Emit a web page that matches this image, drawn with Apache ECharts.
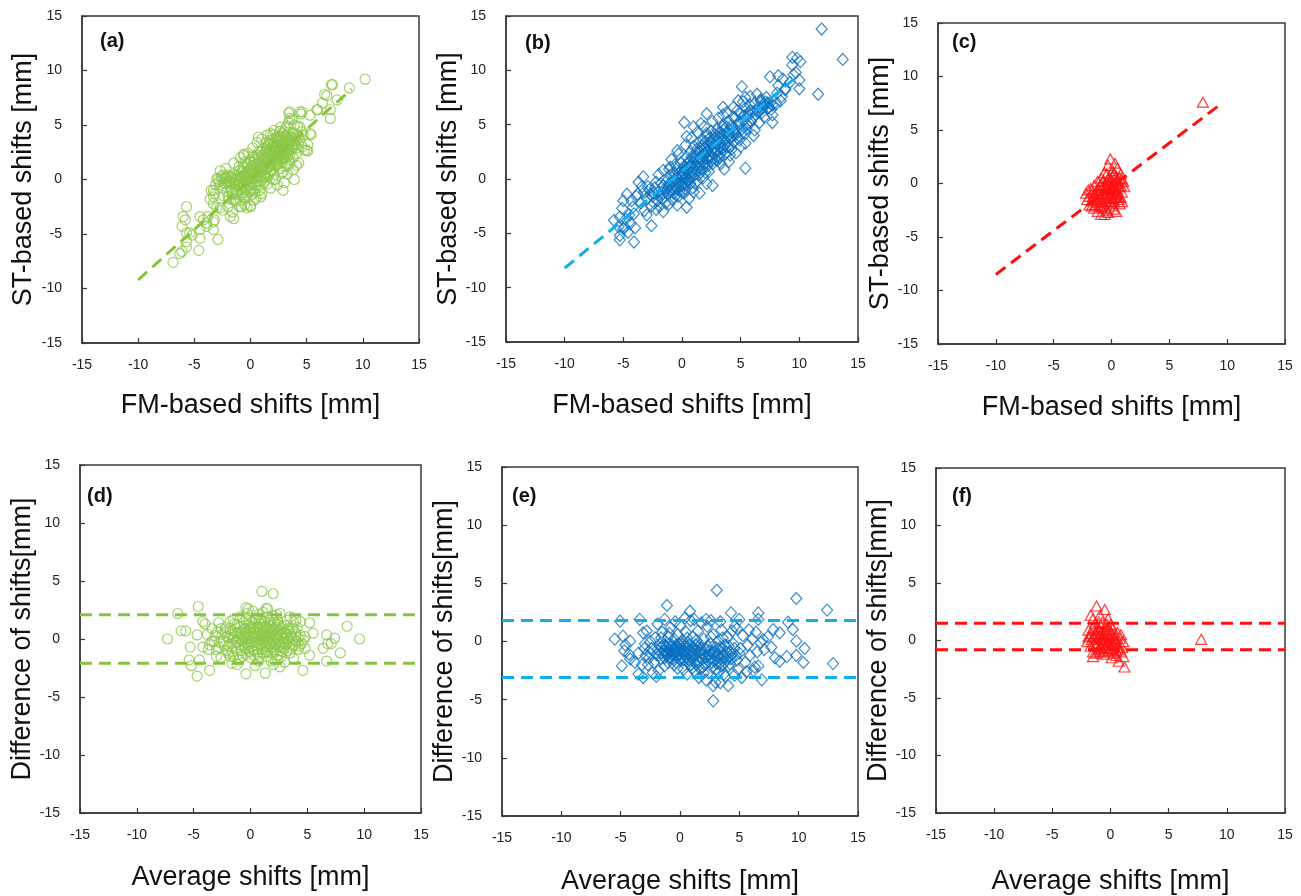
<!DOCTYPE html>
<html>
<head>
<meta charset="utf-8">
<script src="https://cdn.jsdelivr.net/npm/echarts@6/dist/echarts.min.js"></script>
<style>html,body{margin:0;padding:0;background:#fff;}#chart{width:1301px;height:896px;}</style>
</head>
<body>
<div id="chart"></div>
<script>
// ---------- DATA ----------
const panelLabels = ['(a)', '(b)', '(c)', '(d)', '(e)', '(f)'];
const xTitles = ['FM-based shifts [mm]', 'FM-based shifts [mm]', 'FM-based shifts [mm]', 'Average shifts [mm]', 'Average shifts [mm]', 'Average shifts [mm]'];
const yTitles = ['ST-based shifts [mm]', 'ST-based shifts [mm]', 'ST-based shifts [mm]', 'Difference of shifts[mm]', 'Difference of shifts[mm]', 'Difference of shifts[mm]'];
const axisMin = -15, axisMax = 15, axisStep = 5;

// (a) FM vs ST, circles
const pointsA = [
[10.2,9.2],[7.3,8.7],[8.8,8.4],[6.6,7.8],[7.7,7.3],[6.4,7.0],[7.1,6.4],[7.1,5.6],[5.9,6.4],[3.5,6.2],[4.4,6.2],[4.5,6.0],[5.3,5.9],[3.5,5.6],[3.1,4.7],[4.4,4.8],[5.3,4.2],[4.7,4.1],[0.7,3.9],[2.6,4.4],[5.1,3.2],[5.1,2.6],[4.1,2.4],[3.5,1.5],[3.9,0.0],[2.9,-1.0],[-0.6,2.3],[0.3,2.1],[-0.3,1.2],[-3.0,0.1],[-3.2,-1.3],[-3.3,-2.2],[-2.7,-2.6],[-1.5,-3.6],[-2.9,-5.5],[-4.5,-5.4],[-5.7,-2.5],[-5.8,-3.7],[-6.1,-4.3],[-5.7,-4.9],[-5.2,-5.1],[-4.5,-4.6],[-5.7,-6.2],[-4.6,-6.5],[-6.3,-6.8],[-6.9,-7.6],[-4.2,-3.7],[-3.8,-3.4],[-3.3,-3.9],[-3.3,-4.6],[-4.5,-3.4],[-3.9,-4.3],[-1.8,-0.2],[-1.5,-1.9],[-0.3,-2.6],[0.3,-1.9],[0.9,-1.6],[2.0,0.0],[2.9,0.7],[2.5,2.1],[1.4,2.6],[1.7,3.6],[2.3,3.9],[3.2,4.1],[3.8,4.2],
[-6.0,-3.4],[-3.9,-4.0],[-3.2,-3.7],[-5.4,-4.9],[-5.7,-5.7],[-6.1,-6.6],[-1.8,-3.4],[-0.8,-2.5],[0.0,-2.5],[4.1,1.3],[5.0,2.7],[5.4,4.1],[3.4,5.2],[3.7,5.5],[4.6,6.2],[3.4,6.1],[6.0,6.4],[6.8,7.7],[7.2,8.7],[1.6,3.2],[-0.6,2.2],[0.0,1.8],[-2.4,0.4],[-3.5,-1.0],[-3.3,-1.6],
[-2.8,-0.2],[-2.6,0.3],[-2.5,-0.8],[-2.4,-1.5],[-2.3,0.1],[-2.2,-0.4],[-2.1,-1.1],[-2.0,0.4],[-1.9,-0.1],[-1.9,-1.8],[-1.8,-0.7],[-1.7,0.2],[-1.6,-1.3],[-1.5,-0.3],[-1.5,0.5],[-1.4,-0.9],[-1.3,0.0],[-1.3,-2.0],[-1.2,-0.5],[-1.1,0.3],[-1.1,-1.4],[-1.0,-0.2],[-1.0,0.8],[-0.9,-0.8],[-0.9,-1.9],[-0.8,0.1],[-0.8,0.6],[-0.7,-0.4],[-0.7,-1.2],[-0.6,0.3],[-0.6,1.1],[-0.5,-0.1],[-0.5,-0.9],[-0.4,0.5],[-0.4,-1.6],[-0.3,0.0],[-0.3,1.4],[-0.2,-0.6],[-0.2,0.8],[-0.1,0.2],[-0.1,-1.1],[0.0,0.5],[0.0,-0.3],[0.0,1.6],[0.1,0.9],[0.1,-0.8],[0.2,0.1],[0.2,1.3],[0.3,-0.4],[0.3,0.6],[0.4,1.9],[0.4,-1.2],[0.5,0.3],[0.5,1.0],[0.6,-0.1],[0.6,2.2],[0.7,0.7],[0.7,1.5],[0.8,-0.6],[0.8,1.1],[0.9,0.4],[0.9,2.5],[1.0,1.7],[1.0,0.0],[1.1,0.9],[1.1,2.8],[1.2,1.3],[1.2,-0.3],[1.3,2.0],[1.3,0.6],[1.4,1.6],[1.4,3.0],[1.5,1.1],[1.5,2.4],[1.6,0.3],[1.6,1.9],[1.7,2.7],[1.7,1.2],[1.8,3.3],[1.8,0.8],[1.9,2.2],[1.9,1.5],[2.0,3.6],[2.0,2.6],[2.1,1.8],[2.1,0.5],[2.2,3.0],[2.2,2.1],[2.3,3.8],[2.3,1.3],[2.4,2.5],[2.4,3.4],[2.5,1.9],[2.5,4.0],[2.6,2.8],[2.6,1.0],[2.7,3.2],[2.7,2.2],[2.8,3.7],[2.8,1.6],[2.9,2.6],[2.9,4.2],[3.0,3.0],[3.0,2.0],[3.1,3.5],[3.1,1.2],[3.2,2.4],[3.2,3.9],[3.3,2.9],[3.4,3.4],[3.4,1.8],[3.5,4.0],[3.6,2.7],[3.6,3.6],[3.7,3.1],[3.8,4.3],[3.9,3.3],[4.0,3.8],[4.1,2.9],[4.2,4.1],[4.4,3.6],[4.6,4.4],
[-3.1,-0.5],[-3.3,-1.0],[-3.6,-1.8],[-3.0,-2.6],[-2.5,-2.8],[-2.0,-2.5],[-1.6,-3.0],[-1.0,-2.5],[-0.5,-2.3],[0.0,-2.4],[0.5,-1.7],[1.0,-1.3],[1.8,-0.8],[2.4,-0.5],[3.0,-0.3],[3.3,0.5],[-2.7,0.8],[-2.2,1.0],[-1.5,1.5],[-0.9,2.0],[-0.2,2.4],[0.2,2.9],[0.6,3.4],[1.0,3.7],[1.5,4.1],[2.1,4.5],[2.7,4.8],[3.3,4.9],[3.9,5.0],[4.2,4.9],[4.6,3.0],[4.8,2.7],[4.3,1.5],[3.8,0.9],[1.8,4.2]
];
const coreA = [
[-2.9,0.0],[-2.7,-0.5],[-2.5,0.1],[-2.4,-0.3],[-2.2,0.2],[-2.1,-0.2],[-1.9,0.3],[-1.8,-0.3],[-1.7,-1.0],[-1.6,0.0],[-1.4,-0.4],[-1.3,0.4],[-1.2,-1.1],[-1.1,-0.1],[-0.9,0.2],[-0.9,-0.4],[-0.8,-1.4],[-0.7,0.8],[-0.6,-0.6],[-0.5,0.4],[-0.4,-0.2],[-0.3,-1.0],[-0.3,0.6],[-0.2,0.2],[-0.1,-0.5],[0.0,1.0],[0.1,0.4],[0.1,-0.1],[0.2,-1.0],[0.3,0.9],[0.3,1.6],[0.4,0.1],[0.5,-0.5],[0.5,1.4],[0.6,0.6],[0.7,0.2],[0.7,1.9],[0.8,0.9],[0.9,1.4],[0.9,-0.2],[1.0,0.6],[1.0,2.2],[1.1,1.3],[1.2,0.3],[1.2,1.9],[1.3,2.5],[1.3,1.0],[1.4,0.2],[1.5,1.5],[1.5,2.8],[1.6,1.1],[1.6,2.3],[1.7,0.6],[1.7,1.8],[1.8,2.5],[1.8,1.4],[1.9,3.0],[1.9,0.9],[2.0,1.9],[2.0,2.2],[2.1,3.3],[2.1,1.3],[2.2,2.6],[2.2,1.6],[2.3,2.9],[2.3,2.0],[2.4,3.7],[2.4,1.5],[2.5,2.7],[2.5,3.2],[2.6,2.3],[2.6,3.6],[2.7,1.8],[2.7,2.7],[2.8,3.3],[2.8,2.3],[2.9,3.0],[2.9,1.9],[3.0,3.6],[3.0,2.5],[3.1,2.8],[3.1,4.0],[3.2,3.2],[3.2,2.0],[3.3,3.7],[3.3,2.5],[3.4,3.0],[3.5,3.4],[3.5,2.3],[3.6,3.9],[3.7,2.8],[3.7,3.5],[3.8,3.0],[3.9,3.8],[4.0,3.2],[4.1,3.6],[4.3,3.9],[-0.5,1.6],[-1.0,1.2],[0.2,2.2],[0.8,2.6],[1.4,3.4],[2.0,4.1],[3.0,4.4],[-2.0,-1.6],[-1.4,-1.8],[-0.6,-1.6],[0.1,-1.4],[0.8,-1.0],[1.5,-0.4],[2.2,0.0],[2.8,0.6],[3.3,1.3],[3.8,2.0]
];
const lineA = [[-10,-9.2],[9,8.3]];

// (b) FM vs ST, diamonds
const pointsB = [
[11.9,13.8],[13.7,11.0],[11.6,7.8],[9.4,11.2],[9.8,11.1],[10.1,10.8],[9.4,10.5],[9.7,9.8],[10.0,9.1],[10.0,8.3],[8.2,9.5],[7.5,9.4],[8.2,8.6],[8.1,7.9],[8.8,8.2],[8.4,7.2],[7.7,5.9],[7.7,5.2],[7.4,6.6],[6.7,7.2],[5.1,8.5],[5.4,7.5],[4.8,7.2],[4.7,6.3],[5.8,6.3],[5.7,5.2],[5.4,4.2],[6.1,4.0],[5.4,3.3],[5.4,1.0],[3.5,6.6],[3.5,5.9],[4.4,5.7],[3.5,4.8],[4.5,4.3],[4.1,2.2],[3.3,1.4],[2.1,6.0],[2.1,4.2],[1.6,5.1],[1.0,4.8],[0.2,5.2],[0.4,3.9],[-0.4,2.6],[-1.0,1.1],[2.1,-0.4],[0.4,-2.6],[1.0,-1.2],[-1.1,-2.3],[-1.6,-1.3],[-2.4,-1.3],[-2.9,-0.7],[-3.3,0.2],[-3.7,-0.3],[-3.0,-3.3],[-2.6,-4.3],[-4.1,-3.2],[-4.3,-2.0],[-5.0,-2.0],[-4.7,-1.4],[-5.1,-2.7],[-5.3,-3.5],[-5.8,-3.8],[-5.4,-4.4],[-4.9,-4.4],[-4.6,-4.9],[-5.3,-5.2],[-5.3,-5.6],[-4.1,-5.8],[-4.4,-4.1],[-3.8,-1.4],[-3.4,-0.7],
[-2.5,-1.6],[-2.3,-0.8],[-2.1,-2.0],[-2.0,-1.2],[-1.8,-0.4],[-1.7,-1.8],[-1.5,-0.9],[-1.4,-2.2],[-1.3,-0.2],[-1.2,-1.4],[-1.1,-0.6],[-1.0,0.3],[-0.9,-1.0],[-0.8,-1.9],[-0.8,-0.3],[-0.7,0.6],[-0.6,-0.7],[-0.5,0.1],[-0.5,-1.5],[-0.4,1.0],[-0.3,-0.4],[-0.3,0.5],[-0.2,-1.1],[-0.1,0.2],[-0.1,1.5],[0.0,-0.6],[0.0,0.8],[0.1,-0.1],[0.2,1.2],[0.2,-1.3],[0.3,0.4],[0.4,2.0],[0.4,-0.5],[0.5,0.9],[0.6,1.6],[0.6,0.0],[0.7,2.5],[0.8,0.6],[0.8,1.2],[0.9,-0.8],[1.0,1.9],[1.0,3.0],[1.1,0.4],[1.2,1.4],[1.2,2.4],[1.3,-0.2],[1.4,3.3],[1.4,1.0],[1.5,2.0],[1.6,0.6],[1.6,2.8],[1.7,1.6],[1.8,3.6],[1.8,0.1],[1.9,2.3],[2.0,1.2],[2.0,3.0],[2.1,4.0],[2.2,1.8],[2.2,2.6],[2.3,0.7],[2.4,3.4],[2.5,2.1],[2.5,4.4],[2.6,1.4],[2.7,2.9],[2.8,3.8],[2.9,2.4],[3.0,1.7],[3.0,4.6],[3.1,3.2],[3.2,2.0],[3.3,4.0],[3.4,2.8],[3.5,5.0],[3.6,3.5],[3.7,2.3],[3.8,4.3],[3.9,3.0],[4.0,5.3],[4.1,3.8],[4.2,2.7],[4.3,4.7],[4.4,3.4],[4.5,5.6],[4.6,4.1],[4.8,5.0],[4.9,3.6],[5.0,6.0],[5.1,4.6],[5.2,5.4],[5.4,6.5],[5.5,5.0],[5.6,5.8],[5.8,6.8],[5.9,5.3],[6.0,6.2],[6.2,7.0],[6.3,5.9],[6.5,6.6],[6.7,7.3],[6.8,6.1],[7.0,6.9],[7.2,7.5],[7.3,6.5],[7.5,7.0],[6.6,6.2],[7.1,7.1],
[-3.0,-1.8],[-2.8,-1.0],[-2.6,-2.5],[-3.5,-2.2],[-3.9,-1.6],[-4.2,-2.6],[-4.5,-3.3],[-4.8,-3.7],[-5.0,-4.6],[-4.0,-4.5],[-3.2,-2.9],[-2.2,-2.8],[-1.6,-3.0],[-0.4,-2.4],[0.6,-1.8],[1.5,-1.3],[2.6,-0.6],[3.6,0.9],[4.0,1.6],[4.6,2.4],[5.0,3.0],[-1.6,0.8],[-2.0,0.4],[-0.9,1.8],[-0.3,2.3],[0.3,3.1],[0.8,3.8],[1.3,4.3],[1.9,4.8],[2.6,5.3],[3.1,5.6],[3.8,6.1],[4.4,6.6],[5.2,7.1],[5.8,7.6],[6.4,7.8],[6.2,4.5],[6.6,5.2],[7.0,5.7],[7.6,6.4],[8.0,6.9],[8.5,7.6],[8.8,8.3],[9.2,8.9],[9.5,9.6],[8.6,9.2]
];
const coreB = [
[-1.9,-1.4],[-1.6,-0.6],[-1.4,-1.2],[-1.2,-0.8],[-1.0,-1.2],[-0.9,-0.2],[-0.7,-1.3],[-0.6,-0.1],[-0.5,-0.9],[-0.4,-0.2],[-0.3,-1.6],[-0.2,0.3],[-0.1,-0.6],[0.0,0.2],[0.0,-1.2],[0.1,0.6],[0.2,-0.4],[0.3,1.0],[0.3,-0.9],[0.4,0.1],[0.5,1.4],[0.5,-0.2],[0.6,0.6],[0.7,1.1],[0.7,-0.4],[0.8,2.0],[0.9,0.2],[0.9,1.5],[1.0,0.9],[1.1,2.1],[1.1,-0.4],[1.2,0.8],[1.3,1.8],[1.3,2.8],[1.4,0.4],[1.5,1.3],[1.5,2.5],[1.6,1.9],[1.7,0.9],[1.7,3.1],[1.8,2.1],[1.9,1.4],[1.9,2.8],[2.0,0.6],[2.0,3.4],[2.1,1.9],[2.1,2.5],[2.2,1.2],[2.3,3.0],[2.3,2.1],[2.4,1.6],[2.4,3.8],[2.5,2.6],[2.6,3.3],[2.6,1.9],[2.7,2.4],[2.8,4.1],[2.8,2.9],[2.9,3.4],[2.9,1.8],[3.0,2.6],[3.1,3.8],[3.1,2.2],[3.2,4.3],[3.2,3.0],[3.3,2.4],[3.4,3.5],[3.5,4.5],[3.5,2.9],[3.6,4.0],[3.7,3.1],[3.8,4.8],[3.9,3.6],[4.0,4.2],[4.1,3.0],[4.2,4.9],[4.3,3.9],[4.5,4.5],[4.7,3.8],[4.9,5.3],[5.1,4.2],[5.3,5.8],[5.5,4.6],[5.7,6.1],[6.0,5.6],[6.4,6.3],[6.9,6.6],[7.3,7.0],[7.7,6.8],[-2.7,-1.4],[-2.4,-2.2],[-1.9,-2.5],[-3.2,-1.2],[-2.2,-0.3],[-1.1,0.9],[-0.6,1.3]
];
const lineB = [[-10,-8.2],[10,9.6]];

// (c) FM vs ST, triangles
const pointsC = [
[7.9,7.6],
[-0.1,2.3],[0.3,1.9],[-0.3,1.7],[0.5,1.4],[-0.6,1.0],[0.1,1.2],[0.8,0.9],[1.0,0.2],[1.1,-0.3],[0.9,-0.8],[0.6,-1.2],[0.7,-1.9],[0.4,-2.6],[0.1,-2.1],[-0.3,-2.7],[-0.6,-2.9],[-0.9,-2.9],[-1.2,-2.6],[-1.5,-2.3],[-1.9,-2.0],[-2.1,-1.5],[-2.2,-0.9],[-1.8,-0.5],[-1.5,-0.2],[-1.2,0.2],[-0.9,0.5],[-1.6,-1.2],[-1.3,-1.8],[-1.0,-1.4],[-0.8,-2.2],[-0.5,-1.7],[-0.2,-1.3],[0.0,-0.8],[0.3,-0.4],[0.5,0.2],[-0.3,0.4],[-0.6,-0.1],[-1.1,-0.6],[-1.4,-1.0],[-0.7,-0.9],[-0.4,-0.5],[0.2,0.0],[0.6,-0.3],[0.4,0.7],[0.0,0.3],[-0.2,-0.2],[-0.9,-1.2],[-1.2,-1.5],[-0.5,-2.3],[0.2,-1.7],[0.5,-0.9],[0.8,-0.2],[0.7,0.5],[-0.1,-1.0],[-0.8,-0.4],[-1.3,-0.7],[-1.7,-1.6],[-1.0,-2.1],[-0.3,-1.9],[0.1,-1.4],[0.4,-1.0],[0.9,0.4],[0.2,0.9],[-0.4,0.9],[-0.7,0.3],[-1.0,-0.2],[0.0,-0.2],[-0.5,-1.1],[-0.9,-1.7],[-0.2,-0.6],[0.3,-0.7],[0.6,-1.5],[-1.4,-2.0],[-0.6,-1.4],[0.1,-0.5],[-0.3,0.0],[0.4,0.3],[-1.9,-1.2],[-2.0,-0.6],[-1.7,-2.1],[0.8,-1.3],[0.9,-1.7],
[-0.4,-1.4],[-0.1,-0.4],[0.1,0.7],[-0.8,-1.6],[-1.1,-1.0],[0.6,0.0],[0.3,-1.3],[-0.6,-0.4],[-1.4,-1.4],[-0.2,0.6],[0.0,-1.7],[0.5,-0.6],[-0.9,-0.1],[-1.6,-0.8],[0.2,-2.4],[-0.4,-2.5]
];
const lineC = [[-10,-8.5],[9.3,7.3]];

// (d) Bland-Altman of (a), circles
const pointsD = [
[1.0,4.1],[2.0,3.9],[-4.6,2.8],[-6.4,2.2],[-7.3,0.0],[-6.1,0.7],[-5.7,0.7],[-4.2,1.5],[-4.0,1.3],[-4.7,0.35],[-5.3,-0.7],[-5.4,-1.8],[-5.2,-2.3],[-4.7,-3.2],[-3.6,-2.7],[-4.5,-1.8],[-4.2,-0.7],[-3.7,-0.9],[-3.0,-1.5],[-2.8,1.4],[-1.5,1.7],[-0.4,2.7],[-0.4,-3.0],[1.3,-2.95],[4.4,1.5],[5.2,1.4],[5.5,0.5],[4.8,0.2],[4.8,-0.8],[5.2,-1.4],[4.6,-2.7],[6.4,-0.8],[6.8,-0.4],[6.7,0.35],[7.1,-0.4],[7.4,0.07],[6.7,-1.9],[7.9,-1.2],[8.5,1.1],[9.6,0.0],[3.8,1.5],[2.3,2.1],[1.4,2.65],[2.6,-2.4],[2.4,-1.8],[-1.8,-1.5],[-1.65,-2.1],
[-2.5,0.4],[-2.3,-0.6],[-2.2,1.0],[-2.0,-1.2],[-1.9,0.1],[-1.8,1.5],[-1.7,-0.4],[-1.6,0.7],[-1.5,-1.5],[-1.4,0.2],[-1.3,-0.8],[-1.2,1.2],[-1.1,-0.2],[-1.0,0.6],[-1.0,-1.8],[-0.9,1.9],[-0.8,-1.0],[-0.7,0.3],[-0.6,-0.5],[-0.6,1.4],[-0.5,0.9],[-0.4,-1.3],[-0.3,0.0],[-0.3,2.2],[-0.2,-0.7],[-0.1,0.5],[-0.1,1.6],[0.0,-1.6],[0.1,-0.2],[0.2,1.0],[0.2,2.4],[0.3,-1.0],[0.4,0.3],[0.5,1.8],[0.5,-0.5],[0.6,0.8],[0.7,-1.9],[0.7,2.1],[0.8,0.0],[0.9,1.3],[1.0,-0.9],[1.0,0.5],[1.1,2.3],[1.2,-0.3],[1.3,1.0],[1.4,-1.5],[1.4,1.9],[1.5,0.2],[1.6,-0.7],[1.7,1.4],[1.8,0.6],[1.8,-1.9],[1.9,-0.2],[2.0,2.0],[2.1,0.9],[2.2,-1.1],[2.3,0.3],[2.4,1.5],[2.5,-0.5],[2.6,0.7],[2.7,-1.5],[2.8,1.1],[2.9,0.0],[3.0,-0.8],[3.1,0.5],[3.2,1.6],[3.3,-0.3],[3.4,0.9],[3.5,-1.2],[3.6,0.2],[3.7,-0.6],[3.9,0.6],[4.0,-0.2],[4.1,1.0],[4.2,-0.9],[4.4,0.3],[4.5,-0.4],[4.7,-0.1],[-2.7,-0.3],[-2.9,0.6],[-3.2,-0.2],[-3.4,0.9],[-3.0,-0.9],[-3.6,-0.5],[-3.8,0.4],[-2.6,-1.6],[-1.2,-2.2],[0.4,-2.3],[2.0,-2.2],[3.0,-2.0],[3.8,-1.7],[-0.2,2.6],[1.5,2.6],[2.6,2.2],[3.5,1.9],[4.0,1.6],[1.0,1.6],[0.0,1.0],[0.6,-1.3],[1.2,0.1],[1.8,-0.5],[2.4,-0.1],[0.3,0.6],[-0.4,-0.3],[0.9,-0.4],[1.6,0.9],[2.2,0.4],[2.9,-0.4],[-0.8,0.0],[0.0,-0.4],[1.3,-1.1],[2.6,-1.0]
];
const coreD = [
[-2.4,-0.2],[-2.2,0.6],[-2.1,-1.0],[-2.0,0.2],[-1.9,-0.6],[-1.8,0.9],[-1.7,0.4],[-1.6,-1.1],[-1.5,0.0],[-1.4,1.3],[-1.3,-0.3],[-1.2,0.5],[-1.1,-1.3],[-1.0,0.1],[-0.9,-0.5],[-0.9,1.0],[-0.8,0.5],[-0.7,-1.5],[-0.7,-0.1],[-0.6,0.8],[-0.5,-0.8],[-0.5,0.2],[-0.4,1.7],[-0.4,0.6],[-0.3,-0.5],[-0.2,0.3],[-0.2,1.2],[-0.1,-1.1],[-0.1,-0.2],[0.0,0.7],[0.1,1.4],[0.1,-0.7],[0.2,0.2],[0.3,-1.4],[0.3,0.9],[0.4,-0.3],[0.4,1.6],[0.5,0.5],[0.6,-0.9],[0.6,0.1],[0.7,1.1],[0.7,-0.4],[0.8,0.6],[0.8,-1.5],[0.9,-0.1],[0.9,1.8],[1.0,0.2],[1.0,-0.5],[1.1,1.0],[1.1,-1.2],[1.2,0.5],[1.2,1.5],[1.3,-0.6],[1.3,0.3],[1.4,1.1],[1.4,-0.2],[1.5,-1.0],[1.5,0.7],[1.6,0.1],[1.6,1.6],[1.7,-0.4],[1.7,0.4],[1.8,1.1],[1.8,-1.2],[1.9,0.3],[1.9,-0.7],[2.0,0.8],[2.0,-0.1],[2.1,1.4],[2.1,-0.9],[2.2,0.1],[2.3,-0.4],[2.3,1.0],[2.4,0.5],[2.4,-1.4],[2.5,0.0],[2.5,1.2],[2.6,-0.7],[2.7,0.4],[2.7,0.9],[2.8,-0.2],[2.8,-1.1],[2.9,0.6],[3.0,0.2],[3.0,1.2],[3.1,-0.5],[3.2,0.1],[3.2,-1.0],[3.3,0.7],[3.4,-0.2],[3.5,0.4],[3.6,-0.8],[3.7,0.9],[3.8,0.0],[3.9,-0.5],[4.0,0.4],[4.2,0.1],[4.3,-0.6],[-3.1,0.3],[-2.8,-0.7],[-2.6,0.9],[-3.4,-0.2]
];
const limitsD = [2.1, -2.1];

// (e) Bland-Altman of (b), diamonds
const pointsE = [
[3.1,4.4],[9.8,3.7],[12.4,2.7],[12.9,-1.9],[2.8,-5.1],[-1.1,3.1],[-5.05,1.75],[-3.4,1.9],[-5.5,0.2],[-4.8,0.46],[-4.6,-0.3],[-4.2,0.03],[-4.9,-2.1],[-4.2,-1.5],[-3.5,-2.8],[-3.1,-3.1],[-3.1,0.75],[-2.95,-0.2],[-2.5,-1.0],[-2.0,-3.0],[0.84,2.6],[2.2,1.9],[4.3,2.46],[5.0,1.9],[6.6,2.46],[6.6,1.9],[4.8,1.1],[7.85,1.03],[8.4,0.75],[9.1,1.66],[9.5,1.03],[9.8,0.03],[10.5,-0.6],[9.8,-1.2],[10.4,-1.8],[9.0,-1.3],[8.0,-1.4],[8.4,-1.7],[6.6,-2.1],[6.9,-3.3],[5.2,-3.1],[4.06,-3.8],[2.8,-3.8],[3.4,-3.55],[7.0,0.17],
[-2.4,-0.6],[-2.2,-1.8],[-2.1,0.3],[-2.0,-1.1],[-1.8,-2.5],[-1.7,-0.2],[-1.6,-1.5],[-1.5,0.8],[-1.4,-0.8],[-1.3,-2.1],[-1.2,-0.4],[-1.1,-1.2],[-1.0,0.4],[-1.0,-1.8],[-0.9,-0.7],[-0.8,1.2],[-0.8,-1.4],[-0.7,-0.3],[-0.6,-1.0],[-0.5,0.2],[-0.5,-2.0],[-0.4,-0.6],[-0.3,-1.3],[-0.2,0.6],[-0.2,-0.9],[-0.1,-0.2],[0.0,-1.6],[0.0,1.4],[0.1,-0.7],[0.2,0.1],[0.3,-1.1],[0.3,-2.4],[0.4,-0.4],[0.5,0.8],[0.6,-1.5],[0.7,-0.1],[0.8,-0.9],[0.9,1.8],[0.9,-2.0],[1.0,-0.5],[1.1,0.4],[1.2,-1.3],[1.3,-2.6],[1.4,-0.8],[1.5,0.9],[1.6,-1.7],[1.7,-0.3],[1.8,-1.0],[1.9,-2.2],[2.0,0.2],[2.1,-1.4],[2.2,-0.6],[2.3,1.3],[2.4,-2.7],[2.5,-1.1],[2.6,-0.2],[2.7,-1.8],[2.8,0.6],[2.9,-0.9],[3.0,-2.4],[3.1,-1.3],[3.2,0.0],[3.3,-1.9],[3.4,-0.5],[3.5,1.0],[3.6,-1.1],[3.7,-2.8],[3.8,-0.3],[3.9,-1.6],[4.0,0.4],[4.1,-2.1],[4.2,-0.9],[4.3,-1.5],[4.4,0.9],[4.5,-0.2],[4.7,-1.2],[4.9,-2.4],[5.1,-0.6],[5.3,0.5],[5.5,-1.8],[5.7,-0.3],[5.9,-1.2],[6.1,0.2],[6.3,-2.2],[6.5,-0.9],[6.8,-0.1],[7.1,-0.7],[7.4,0.4],[7.7,-0.5],[-3.0,-0.6],[-3.5,-1.0],[-3.8,-1.8],[-4.3,-1.1],[-4.7,-0.8],[-2.7,-2.0],[-2.3,-2.7],[-2.8,0.9],[-1.9,1.5],[-1.3,1.9],[-0.4,1.7],[0.4,2.0],[1.2,1.9],[1.8,1.6],[2.6,1.8],[3.4,1.7],[4.6,1.3],[5.8,1.0],[6.4,0.8],[0.6,-2.8],[1.6,-3.1],[2.2,-3.3],[3.0,-3.5],[3.8,-3.0],[4.6,-2.9],[5.6,-2.6],[6.2,-2.5],[-0.6,-0.8],[0.2,-0.9],[1.0,-1.1],[1.6,-0.9],[2.4,-1.2],[-0.3,-0.3],[0.5,-0.6],[1.3,-0.3],[-1.1,-0.9],[0.8,-1.6]
];
const coreE = [
[-1.9,-0.7],[-1.8,-1.2],[-1.6,-0.5],[-1.5,-1.0],[-1.4,-0.3],[-1.3,-1.4],[-1.2,-0.9],[-1.1,-0.5],[-1.0,-1.0],[-0.9,-1.4],[-0.9,-0.2],[-0.8,-0.8],[-0.7,-1.1],[-0.7,-0.5],[-0.6,-1.5],[-0.5,-0.6],[-0.5,-1.1],[-0.4,-0.9],[-0.3,-0.5],[-0.3,-1.8],[-0.2,-1.2],[-0.1,-0.7],[0.0,-1.1],[0.0,-0.3],[0.1,-1.4],[0.2,-0.6],[0.3,-0.2],[0.3,-1.6],[0.4,-0.9],[0.5,-1.3],[0.6,-0.5],[0.7,-1.0],[0.7,-1.9],[0.8,-0.3],[0.9,-1.3],[1.0,-0.8],[1.1,-1.6],[1.2,-0.6],[1.3,-1.1],[1.4,-2.0],[1.5,-0.5],[1.6,-1.3],[1.7,-2.3],[1.8,-0.6],[1.9,-1.5],[2.0,-1.0],[2.1,-2.0],[2.2,-1.3],[2.3,-0.4],[2.4,-1.7],[2.5,-0.8],[2.6,-1.4],[2.7,-2.2],[2.8,-1.0],[2.9,-1.6],[3.0,-0.5],[3.1,-1.9],[3.2,-1.1],[3.3,-0.7],[3.4,-1.5],[3.5,-2.1],[3.6,-0.6],[3.7,-1.3],[3.8,-1.8],[3.9,-0.9],[4.0,-1.4],[4.1,-0.4],[4.2,-1.9],[4.4,-1.1],[4.6,-0.6],[4.8,-1.6],[5.0,-1.0],[-2.6,-1.4],[-2.9,-1.2],[-3.2,-2.0],[-2.5,0.0],[-1.6,0.3],[-0.9,0.7],[0.6,0.3],[1.4,0.1],[2.6,0.4],[3.6,0.3],[-0.2,-2.3],[1.0,-2.3],[2.0,-2.7],[3.3,-2.6]
];
const limitsE = [1.8, -3.1];

// (f) Bland-Altman of (c), triangles
const pointsF = [
[7.8,0.1],
[-1.2,3.0],[-0.5,2.7],[-1.7,2.2],[-1.5,1.9],[-0.9,2.2],[-0.2,1.9],[-1.3,1.5],[-0.7,1.6],[0.0,1.4],[-1.9,0.9],[-1.5,1.1],[-1.0,1.0],[-0.4,1.2],[0.2,1.0],[-1.8,0.4],[-1.3,0.6],[-0.8,0.7],[-0.3,0.6],[0.3,0.5],[0.6,0.7],[-2.0,-0.1],[-1.6,0.1],[-1.1,0.2],[-0.6,0.3],[-0.1,0.2],[0.4,0.1],[0.8,0.2],[1.1,-0.1],[-1.7,-0.5],[-1.2,-0.3],[-0.7,-0.2],[-0.2,-0.1],[0.3,-0.3],[0.7,-0.4],[1.0,-0.6],[-1.5,-1.0],[-1.0,-0.8],[-0.5,-0.6],[0.0,-0.7],[0.5,-0.9],[0.9,-1.0],[-1.5,-1.4],[-1.2,-1.1],[-0.6,-1.2],[0.1,-1.5],[0.5,-1.3],[0.7,-1.8],[1.1,-1.4],[1.2,-2.3],[-0.9,0.4],[-0.4,0.9],[0.1,0.6],[-1.4,-0.3],[-0.9,-0.5],[-0.3,-0.3],[0.2,-0.4],[-1.1,0.5],[-0.5,0.0],[0.0,0.0],[0.5,0.4],[-0.8,1.2],[-0.1,0.9],[-1.6,0.6],[-0.6,-0.9],[0.3,-1.1],[-0.2,-1.0],[-1.9,0.3],[0.9,0.5],[-1.0,1.6],[-0.3,1.4],
[-0.7,0.1],[-0.2,0.4],[0.3,0.2],[-1.2,0.9],[-0.6,0.6],[0.1,-0.2],[-1.0,-0.2],[-0.4,-0.4],[0.6,-0.6],[-0.9,-1.0],[0.2,-0.8],[-1.4,0.3],[-0.3,1.0],[0.4,-0.1],[-0.8,-0.7],[0.8,-0.8]
];
const limitsF = [1.5, -0.8];

// ---------- STYLE / LAYOUT ----------
const FONT = 'Arial, "Liberation Sans", Helvetica, sans-serif';
const GREEN = '#8DC84A', GREEN_LINE = '#86C43F';
const BLUE = '#0A70C0', BLUE_LINE = '#14ACEC';
const RED = '#FF1010';
const AXIS_COLOR = '#3a3a3a';

const grids = [
  {left: 82,  top: 16,  width: 337, height: 327},
  {left: 506, top: 16,  width: 352, height: 326},
  {left: 938, top: 23,  width: 347, height: 321},
  {left: 80,  top: 465, width: 341, height: 348},
  {left: 502, top: 467, width: 356, height: 350},
  {left: 936, top: 468, width: 349, height: 345}
];
const xGaps = [49, 50, 50, 51, 52, 55];
const yGaps = [45, 40, 41, 41, 38, 40];
const labelPos = [[100, 31], [525, 33], [952, 32], [87, 486], [512, 486], [952, 486]];

const gridOpts = grids.map(g => Object.assign({show: true, borderColor: AXIS_COLOR, borderWidth: 1.5, backgroundColor: '#fff', containLabel: false}, g));

function mkAxis(i, isX) {
  return {
    type: 'value', gridIndex: i, min: axisMin, max: axisMax, interval: axisStep,
    name: isX ? xTitles[i] : yTitles[i],
    nameLocation: 'middle', nameGap: isX ? xGaps[i] : yGaps[i],
    nameTextStyle: {fontFamily: FONT, fontSize: 27, color: '#111'},
    axisLine: {show: true, onZero: false, lineStyle: {color: AXIS_COLOR, width: 1.5}},
    axisTick: {show: true, inside: true, length: 5, lineStyle: {color: AXIS_COLOR, width: 1.2}},
    axisLabel: {fontFamily: FONT, fontSize: 14, color: '#222', margin: isX ? 15 : 20},
    splitLine: {show: false}
  };
}
const xAxes = grids.map((g, i) => mkAxis(i, true));
const yAxes = grids.map((g, i) => mkAxis(i, false));

function scatter(i, data, symbol, size, color) {
  return {
    type: 'scatter', xAxisIndex: i, yAxisIndex: i, data: data,
    symbol: symbol, symbolSize: size, silent: true, z: 2, large: false,
    itemStyle: {color: 'rgba(0,0,0,0)', borderColor: color, borderWidth: 1.2}
  };
}
function dashLine(i, data, color) {
  return {
    type: 'line', xAxisIndex: i, yAxisIndex: i, data: data, symbol: 'none', silent: true, z: 3,
    lineStyle: {color: color, width: 3, type: [12, 7]}
  };
}
function hLine(i, yv, color) {
  return dashLine(i, [[axisMin, yv], [axisMax, yv]], color);
}

const series = [
  scatter(0, pointsA.concat(coreA), 'circle', 10, GREEN),
  scatter(1, pointsB.concat(coreB), 'diamond', [11, 12], BLUE),
  scatter(2, pointsC, 'triangle', [11, 10], RED),
  scatter(3, pointsD.concat(coreD), 'circle', 10, GREEN),
  scatter(4, pointsE.concat(coreE), 'diamond', [11, 12], BLUE),
  scatter(5, pointsF, 'triangle', [11, 10], RED),
  dashLine(0, lineA, GREEN_LINE),
  dashLine(1, lineB, BLUE_LINE),
  dashLine(2, lineC, RED),
  hLine(3, limitsD[0], GREEN_LINE), hLine(3, limitsD[1], GREEN_LINE),
  hLine(4, limitsE[0], BLUE_LINE), hLine(4, limitsE[1], BLUE_LINE),
  hLine(5, limitsF[0], RED), hLine(5, limitsF[1], RED)
];

const titles = panelLabels.map((t, i) => ({
  text: t, left: labelPos[i][0], top: labelPos[i][1], padding: 0,
  textStyle: {fontFamily: FONT, fontSize: 20, fontWeight: 'bold', color: '#111'}
}));

const chart = echarts.init(document.getElementById('chart'), null, {renderer: 'canvas'});
chart.setOption({
  animation: false,
  backgroundColor: '#fff',
  title: titles,
  grid: gridOpts,
  xAxis: xAxes,
  yAxis: yAxes,
  series: series
});
</script>
</body>
</html>
